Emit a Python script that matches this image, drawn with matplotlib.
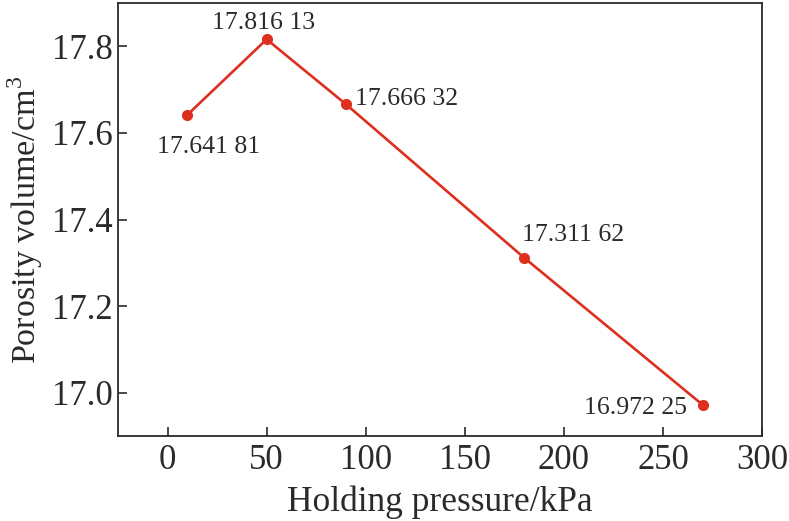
import matplotlib
matplotlib.use('Agg')
import matplotlib.pyplot as plt

plt.rcParams['font.family'] = ['Liberation Serif', 'DejaVu Serif']
plt.rcParams['mathtext.fontset'] = 'custom'
plt.rcParams['mathtext.rm'] = 'Liberation Serif'

# Data
pressure = [10, 50, 90, 180, 270]
volume = [17.64181, 17.81613, 17.66632, 17.31162, 16.97225]
point_labels = ['17.641 81', '17.816 13', '17.666 32', '17.311 62', '16.972 25']
x_ticks = [0, 50, 100, 150, 200, 250, 300]
y_ticks = [17.0, 17.2, 17.4, 17.6, 17.8]

# label offsets in points (dx, dy) and alignment
label_pos = [
    ((15, -23), 'center'),
    ((-2, 12), 'center'),
    ((6.5, 4), 'left'),
    ((35, 16.5), 'center'),
    ((-11.5, -2), 'right'),
]

fig = plt.figure(figsize=(7.89, 5.21), dpi=100)
ax = fig.add_axes([0.1496, 0.163, 0.8162, 0.8312])

line_color = '#de2f1e'
ax.plot(pressure, volume, '-o', color=line_color, linewidth=1.9, markersize=7)

for x, y, txt, (off, ha) in zip(pressure, volume, point_labels, label_pos):
    ax.annotate(txt, (x, y), xytext=off, textcoords='offset points',
                ha=ha, va='center', fontsize=18.5, color='#2a2a2a')

ax.set_xlim(-25, 300)
ax.set_ylim(16.9, 17.9)
ax.set_xticks(x_ticks)
ax.set_yticks(y_ticks)
ax.set_yticklabels([f'{v:.1f}' for v in y_ticks])
ax.tick_params(direction='in', length=6.5, width=1.2, labelsize=25, colors='#2a2a2a')
ax.tick_params(axis='x', pad=6)
ax.tick_params(axis='y', pad=4)
for s in ax.spines.values():
    s.set_linewidth(1.3)
    s.set_color('#2a2a2a')

ax.set_xlabel('Holding pressure/kPa', fontsize=25.5, color='#2a2a2a', labelpad=6)
ax.set_ylabel('Porosity volume/cm$^3$', fontsize=24.5, color='#2a2a2a')
ax.yaxis.set_label_coords(-0.114, 0.5)

fig.savefig('out.png', dpi=100)
